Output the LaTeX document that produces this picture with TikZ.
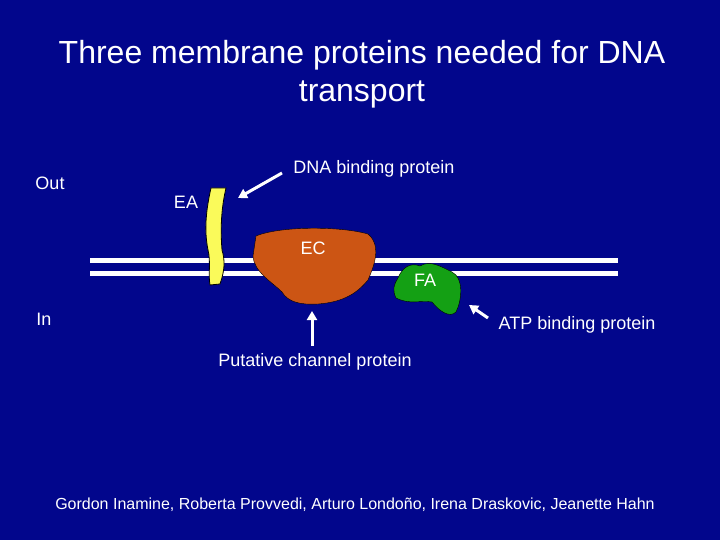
\documentclass[tikz,border=0pt]{standalone}
\usepackage{fontspec}
\setmainfont{Liberation Sans}
\usetikzlibrary{arrows.meta}
\definecolor{bg}{RGB}{2,6,140}
\definecolor{ec}{RGB}{204,85,20}
\definecolor{fa}{RGB}{20,160,20}
\definecolor{ea}{RGB}{250,250,90}
\begin{document}
\begin{tikzpicture}[x=1pt,y=-1pt,
  lbl/.style={text=white,font=\fontsize{18}{20}\selectfont,inner sep=0pt},
  arr/.style={white,line width=3pt,-{Triangle[length=9pt,width=10pt]}},
  mem/.style={white,line width=5pt}]
\useasboundingbox (0,0) rectangle (720,540);
\fill[bg] (0,0) rectangle (720,540);
\node[text=white,align=center,font=\fontsize{32}{38}\selectfont] (title) at (362,74) {Three membrane proteins needed for DNA\\transport};
\draw[mem] (90,260) -- (618,260);
\draw[mem] (90,273) -- (618,273);
% EA
\fill[ea,draw=black,thick] (211,188) .. controls (206,210) and (204,230) .. (208,250) .. controls (211,262) and (208,275) .. (210,285) -- (220,284) .. controls (225,270) and (225,260) .. (222,250) .. controls (220,225) and (222,205) .. (226,188) -- cycle;
\node (eab) at (216,236) {};
% EC
\fill[ec,draw=black] (256,236) .. controls (280,226) and (340,226) .. (368,234) .. controls (382,246) and (374,266) .. (368,280) .. controls (358,292) and (345,302) .. (318,304) .. controls (300,305) and (288,302) .. (282,292) .. controls (272,282) and (254,272) .. (253,256) -- cycle;
\node (ecb) at (312,270) {};
% FA
\fill[fa,draw=black] (398,278) .. controls (402,268) and (410,262) .. (420,266) .. controls (430,260) and (440,266) .. (452,272) .. controls (464,278) and (462,300) .. (456,312) .. controls (450,318) and (440,312) .. (432,302) .. controls (420,300) and (410,305) .. (396,298) .. controls (392,290) and (394,284) .. (398,278) -- cycle;
\node (fab) at (430,290) {};
\node[lbl] (ectxt) at (313,248) {EC};
\node[lbl] (fatxt) at (425,280) {FA};
\node[lbl] (eatxt) at (186,202) {EA};
\node[lbl] (out) at (50,183) {Out};
\node[lbl] (in) at (44,319) {In};
\node[lbl] (dna) at (374,169) {DNA binding protein};
\node[lbl] (put) at (315,362) {Putative channel protein};
\node[lbl] (atp) at (577,325) {ATP binding protein};
\coordinate (d1) at (282,173); \coordinate (d2) at (238,198);
\coordinate (p1) at (312,346); \coordinate (p2) at (312,311);
\coordinate (a1) at (488,318); \coordinate (a2) at (469,305);
\draw[arr] (d1) -- (d2);
\draw[arr] (p1) -- (p2);
\draw[arr] (a1) -- (a2);
\node[lbl,font=\fontsize{16}{18}\selectfont] (auth) at (355,505) {Gordon Inamine, Roberta Provvedi, Arturo Londoño, Irena Draskovic, Jeanette Hahn};
\end{tikzpicture}
\end{document}
